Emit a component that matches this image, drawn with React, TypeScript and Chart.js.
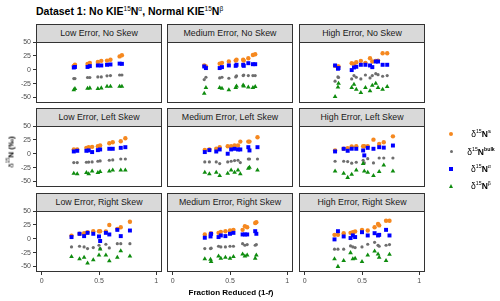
import React, { useEffect, useRef } from "react";
import { Chart, registerables } from "chart.js";

Chart.register(...registerables);

// ---------- data ----------
const stripLabels = [
  "Low Error, No Skew", "Medium Error, No Skew", "High Error, No Skew",
  "Low Error, Left Skew", "Medium Error, Left Skew", "High Error, Left Skew",
  "Low Error, Right Skew", "Medium Error, Right Skew", "High Error, Right Skew",
];
const seriesNames = ["δ15Ns", "δ15Nbulk", "δ15Nα", "δ15Nβ"];
const yTicks = [-50, -25, 0, 25, 50];
const xTicks = [0, 0.5, 1];

// Low error, no skew
const lowNoX = [0.28, 0.29, 0.40, 0.42, 0.49, 0.52, 0.57, 0.60, 0.68, 0.70];
const lowNoS = [7, 9, 10.5, 12, 14, 16, 16.5, 18, 24, 26];
const lowNoBulk = [-16, -16, -14, -14, -13, -13, -11, -10.5, -9.5, -9.5];
const lowNoAlpha = [4, 5, 5, 6.5, 7.7, 7.7, 8.9, 9.5, 11, 10.6];
const lowNoBeta = [-36.6, -34, -33.7, -33, -34, -33, -30, -30, -30, -30];
// Medium error, no skew
const medNoX = [0.275, 0.29, 0.41, 0.43, 0.49, 0.55, 0.557, 0.615, 0.62, 0.66, 0.70, 0.72];
const medNoS = [7.7, 6, 11, 12.4, 14.8, 16.5, 18, 18, 16.5, 20.7, 26.6, 27.8];
const medNoBulk = [-17.7, -13.6, -14.8, -13.6, -15.4, -13, -11.2, -10.6, -9.5, -10.6, -10.6, -10.6];
const medNoAlpha = [5.9, 3, 3, 4.7, 7.7, 7, 8.9, 8.9, 7, 11.8, 10, 10];
const medNoBeta = [-42.6, -32.5, -32.5, -33.7, -36.6, -32.5, -29.6, -27.8, -29.6, -31.3, -32.5, -30.7];
// High error, no skew
const highNoX = [0.265, 0.29, 0.295, 0.41, 0.43, 0.45, 0.49, 0.53, 0.57, 0.59, 0.62, 0.64, 0.68, 0.72];
const highNoS = [7, 5.3, 6, 11.8, 10.6, 13.6, 16, 12.4, 20.7, 14.8, 16, 16.5, 29.6, 29.6];
const highNoBulk = [-20.7, -13, -14, -16.5, -10.6, -13.6, -16.5, -9.5, -14.8, -10.6, -7.1, -8.9, -11.8, -10.6];
const highNoAlpha = [7.7, 1.8, 3, -0.6, 4.1, 5.3, 8.9, 8.9, 7.7, 4.7, 14.8, 14.8, 8.9, 8.9];
const highNoBeta = [-48.5, -31.3, -24.8, -32.5, -26.6, -35.5, -41.4, -32.5, -38.4, -28.4, -24.8, -32.5, -35.5, -30.7];
// Low error, left skew
const lowLeftX = [0.28, 0.31, 0.39, 0.41, 0.44, 0.49, 0.51, 0.59, 0.62, 0.69, 0.73];
const lowLeftS = [7.7, 7.7, 10.6, 11.8, 12.4, 13.6, 14.8, 18.9, 20.7, 22.5, 27.8];
const lowLeftBulk = [-16, -16, -15.4, -15, -14.8, -13.6, -13, -11.8, -11.2, -9.5, -9.5];
const lowLeftAlpha = [4.1, 5.3, 5.3, 6, 3, 6.5, 7.7, 8.9, 8.9, 10.6, 11.8];
const lowLeftBeta = [-35.5, -36.6, -34.3, -36.6, -31.3, -34.3, -32.5, -31.3, -29.6, -29.6, -29.6];
// Medium error, left skew
const medLeftX = [0.28, 0.32, 0.38, 0.41, 0.48, 0.51, 0.54, 0.57, 0.59, 0.66, 0.67, 0.74];
const medLeftS = [7, 7.7, 9, 11.8, 13.6, 13.6, 14.8, 14.8, 21.9, 21.9, 21.9, 29.6];
const medLeftBulk = [-14.8, -14.8, -14.8, -17.7, -14.8, -13.6, -12.4, -11.8, -16, -9.5, -9.5, -9.5];
const medLeftAlpha = [3, 6.5, 4, 7.7, 0, 7.7, 8.9, 7.7, 7.7, 11.8, 5.9, 11.8];
const medLeftBeta = [-33.7, -36.6, -33.7, -39.6, -35.5, -29.6, -33.7, -29.6, -36.6, -26.6, -24.8, -29.6];
// High error, left skew
const highLeftX = [0.265, 0.34, 0.375, 0.41, 0.45, 0.51, 0.52, 0.55, 0.60, 0.65, 0.69, 0.77];
const highLeftS = [5.9, 8.9, 10, 13, 13.6, 13.6, 13.6, 13.6, 25.4, 17.7, 20.7, 31.3];
const highLeftBulk = [-13.6, -13.6, -14.2, -17.1, -15.4, -11.8, -16.5, -8.9, -16.5, -7.7, -7.7, -7.7];
const highLeftAlpha = [4.1, 8.9, 5.3, 9, 8.9, 5.9, -3, 10.6, 8.9, 11.8, 11, 14.8];
const highLeftBeta = [-31.3, -35.5, -43, -37.2, -29.6, -17.7, -31.3, -33.7, -39.6, -32.5, -20.7, -31.3];
// Low error, right skew
const lowRightX = [0.26, 0.33, 0.37, 0.40, 0.45, 0.50, 0.51, 0.56, 0.59, 0.66, 0.69, 0.77];
const lowRightS = [5.3, 8.9, 10, 11.8, 13.6, 13.6, 13.6, 13, 24.8, 17.7, 20.7, 30.7];
const lowRightBulk = [-14.8, -13.6, -14.8, -17.7, -16, -11.8, -17.7, -10, -16.5, -8.9, -8.9, -8.9];
const lowRightAlpha = [3, 8.9, 4.7, 10.6, 8.9, 4.1, -4.1, 10.6, 7.7, 16, 4.7, 14.8];
const lowRightBeta = [-32.5, -36.6, -33.7, -44, -38.4, -29.6, -18.9, -29.6, -40.2, -33.7, -21.9, -31.3];
// Medium error, right skew
const medRightX = [0.28, 0.33, 0.335, 0.40, 0.42, 0.46, 0.50, 0.53, 0.61, 0.63, 0.65, 0.72, 0.73];
const medRightS = [7.7, 8.9, 9.5, 10.6, 12.4, 13.6, 14.8, 16, 16, 22.5, 20.7, 28.4, 29.6];
const medRightBulk = [-17.7, -17.7, -17, -13.6, -14.8, -14.8, -13.6, -13.6, -8.9, -11.8, -10.6, -11.8, -10.6];
const medRightAlpha = [1.8, 4.1, 8.9, 3, 5.9, 4.7, 8.9, 10.6, 7.7, 7.7, 7.7, 13.6, 8.9];
const medRightBeta = [-36.6, -37.2, -41.4, -31.3, -35.5, -33.7, -35.5, -32.5, -27.8, -31.3, -29.6, -35.5, -29.6];
// High error, right skew
const highRightX = [0.26, 0.29, 0.34, 0.40, 0.42, 0.44, 0.50, 0.55, 0.61, 0.64, 0.65, 0.71, 0.74];
const highRightS = [7, 7, 10, 10.6, 11.8, 13, 16, 14.8, 20.7, 26.6, 24, 32.5, 32.5];
const highRightBulk = [-18.9, -18.9, -18.9, -13, -14.8, -16, -14.8, -10, -6.5, -11.8, -13.6, -11.8, -10.6];
const highRightAlpha = [-1.2, 13.6, 4.1, 1.2, 6, 3, 11.8, 5.9, 10, 5.9, 7, 16, 5.9];
const highRightBeta = [-36.6, -50.2, -39.6, -25.4, -36.6, -35.5, -41.4, -29.6, -22.5, -27.8, -33.7, -39.6, -28.4];

const panelData = [
  [lowNoX, lowNoS, lowNoBulk, lowNoAlpha, lowNoBeta],
  [medNoX, medNoS, medNoBulk, medNoAlpha, medNoBeta],
  [highNoX, highNoS, highNoBulk, highNoAlpha, highNoBeta],
  [lowLeftX, lowLeftS, lowLeftBulk, lowLeftAlpha, lowLeftBeta],
  [medLeftX, medLeftS, medLeftBulk, medLeftAlpha, medLeftBeta],
  [highLeftX, highLeftS, highLeftBulk, highLeftAlpha, highLeftBeta],
  [lowRightX, lowRightS, lowRightBulk, lowRightAlpha, lowRightBeta],
  [medRightX, medRightS, medRightBulk, medRightAlpha, medRightBeta],
  [highRightX, highRightS, highRightBulk, highRightAlpha, highRightBeta],
];

// ---------- styling ----------
const FONT = '"Liberation Sans", Arial, Helvetica, sans-serif';
const ORANGE = "#F5881F";
const GRAY = "#6E6E6E";
const BLUE = "#0000FF";
const GREEN = "#0E8C0E";
const seriesStyle = [
  { color: ORANGE, style: "circle", r: 2.2, order: 4 },
  { color: GRAY, style: "circle", r: 1.6, order: 3 },
  { color: BLUE, style: "rect", r: 2.8, order: 2 },
  { color: GREEN, style: "triangle", r: 2.7, order: 1 },
];

const COL_LEFT = [36, 167, 299];
const ROW_TOP = [42, 126, 211];
const PW = 126;
const PH = 61;
const STRIP_H = 19;
const PAD = 8;
const YW = 30;
const XH = 14;

const borderPlugin = {
  id: "panelBorder",
  afterDatasetsDraw(chart: any) {
    const { ctx, chartArea } = chart;
    ctx.save();
    ctx.strokeStyle = "#333333";
    ctx.lineWidth = 1;
    ctx.strokeRect(chartArea.left + 0.5, chartArea.top + 0.5, chartArea.right - chartArea.left - 1, chartArea.bottom - chartArea.top - 1);
    ctx.restore();
  },
};

function canvasRect(i: number) {
  const r = Math.floor(i / 3), c = i % 3;
  const extraL = c === 0 ? YW : 0;
  const extraB = r === 2 ? XH : 0;
  return {
    left: COL_LEFT[c] - PAD - extraL,
    top: ROW_TOP[r] - PAD,
    width: PW + 2 * PAD + extraL,
    height: PH + 2 * PAD + extraB,
  };
}

export default function App() {
  const refs = useRef<(HTMLCanvasElement | null)[]>([]);

  useEffect(() => {
    const charts = panelData.map((pd, i) => {
      const r = Math.floor(i / 3), c = i % 3;
      const showX = r === 2;
      const showY = c === 0;
      const xs = pd[0];
      const datasets = seriesNames.map((name, k) => {
        const st = seriesStyle[k];
        return {
          label: name,
          data: xs.map((x, j) => ({ x, y: pd[k + 1][j] })),
          pointStyle: st.style,
          pointRadius: st.r,
          pointBackgroundColor: st.color,
          pointBorderColor: st.color,
          pointBorderWidth: 0,
          backgroundColor: st.color,
          borderColor: st.color,
          showLine: false,
          order: st.order,
        };
      });
      const tickFont = { family: FONT, size: 7 };
      return new Chart(refs.current[i] as HTMLCanvasElement, {
        type: "scatter",
        data: { datasets } as any,
        options: {
          responsive: false,
          animation: false,
          events: [],
          layout: { padding: PAD, autoPadding: false },
          plugins: { legend: { display: false }, tooltip: { enabled: false }, title: { display: false } },
          scales: {
            x: {
              type: "linear",
              min: -0.05,
              max: 1.05,
              display: showX,
              afterBuildTicks: (axis: any) => { axis.ticks = xTicks.map((v) => ({ value: v })); },
              afterFit: (axis: any) => { axis.height = showX ? XH : 0; },
              ticks: { font: tickFont, color: "#4D4D4D", padding: 2, maxRotation: 0, autoSkip: false, callback: (v: any) => String(v) },
              grid: { display: true, drawOnChartArea: false, drawTicks: true, tickLength: 3, color: "#333333", lineWidth: 1 },
              border: { display: false },
            },
            y: {
              type: "linear",
              min: -60,
              max: 50,
              display: showY,
              afterBuildTicks: (axis: any) => { axis.ticks = yTicks.map((v) => ({ value: v })); },
              afterFit: (axis: any) => { axis.width = showY ? YW : 0; },
              ticks: { font: tickFont, color: "#4D4D4D", padding: 2, autoSkip: false, callback: (v: any) => String(v) },
              grid: { display: true, drawOnChartArea: false, drawTicks: true, tickLength: 3, color: "#333333", lineWidth: 1 },
              border: { display: false },
            },
          },
        } as any,
        plugins: [borderPlugin],
      });
    });
    return () => charts.forEach((ch) => ch.destroy());
  }, []);

  const sup = (t: string, bold = false) => (
    <sup style={{ fontSize: "62%", verticalAlign: "super", lineHeight: 0, fontWeight: bold ? "bold" : "normal" }}>{t}</sup>
  );

  const legendLabels = [
    <span>δ{sup("15")}<b>N</b>{sup("s", true)}</span>,
    <span>δ{sup("15")}<b>N</b>{sup("bulk", true)}</span>,
    <span>δ{sup("15")}<b>N</b>{sup("α")}</span>,
    <span>δ{sup("15")}<b>N</b>{sup("β")}</span>,
  ];
  const legendY = [134, 151.5, 169, 186];

  const symbol = (k: number) => {
    const st = seriesStyle[k];
    if (st.style === "triangle") {
      return { width: 0, height: 0, borderLeft: "2.5px solid transparent", borderRight: "2.5px solid transparent", borderBottom: `4px solid ${st.color}`, marginLeft: -2.5, marginTop: -2.5 };
    }
    const size = k === 0 ? 4 : k === 1 ? 3 : 4;
    return { width: size, height: size, background: st.color, borderRadius: st.style === "circle" ? "50%" : 0, marginLeft: -size / 2, marginTop: -size / 2 };
  };

  return (
    <div style={{ position: "absolute", left: 0, top: 0, width: 500, height: 301, background: "#ffffff", fontFamily: FONT, overflow: "hidden" }}>
      <div style={{ position: "absolute", left: 36, top: 4, fontSize: 10.5, fontWeight: "bold", color: "#000", whiteSpace: "nowrap", lineHeight: "14px" }}>
        Dataset 1: No KIE{sup("15")}N{sup("α")}, Normal KIE{sup("15")}N{sup("β")}
      </div>
      {stripLabels.map((lab, i) => {
        const r = Math.floor(i / 3), c = i % 3;
        return (
          <div key={"s" + i} style={{ position: "absolute", left: COL_LEFT[c], top: ROW_TOP[r] - STRIP_H + 1, width: PW, height: STRIP_H, boxSizing: "border-box", background: "#D9D9D9", border: "1px solid #333333", fontSize: 8.8, color: "#1A1A1A", textAlign: "center", lineHeight: "17px", whiteSpace: "nowrap" }}>
            {lab}
          </div>
        );
      })}
      {panelData.map((_, i) => {
        const rc = canvasRect(i);
        return (
          <canvas
            key={"c" + i}
            ref={(el) => { refs.current[i] = el; }}
            width={rc.width}
            height={rc.height}
            style={{ position: "absolute", left: rc.left, top: rc.top, width: rc.width, height: rc.height }}
          />
        );
      })}
      <div style={{ position: "absolute", left: 11, top: 152, transform: "translate(-50%, -50%) rotate(-90deg)", fontSize: 8, color: "#000", whiteSpace: "nowrap" }}>
        δ{sup("15")}<b>N (‰)</b>
      </div>
      <div style={{ position: "absolute", left: 231, top: 292, transform: "translate(-50%, -50%)", fontSize: 8, fontWeight: "bold", color: "#000", whiteSpace: "nowrap" }}>
        Fraction Reduced (1-<i>f</i>)
      </div>
      {legendLabels.map((lab, k) => (
        <React.Fragment key={"l" + k}>
          <div style={{ position: "absolute", left: 451, top: legendY[k], ...symbol(k) }} />
          <div style={{ position: "absolute", left: 481, top: legendY[k], transform: "translate(-50%, -50%)", fontSize: 8.5, color: "#000", whiteSpace: "nowrap" }}>
            {lab}
          </div>
        </React.Fragment>
      ))}
    </div>
  );
}
